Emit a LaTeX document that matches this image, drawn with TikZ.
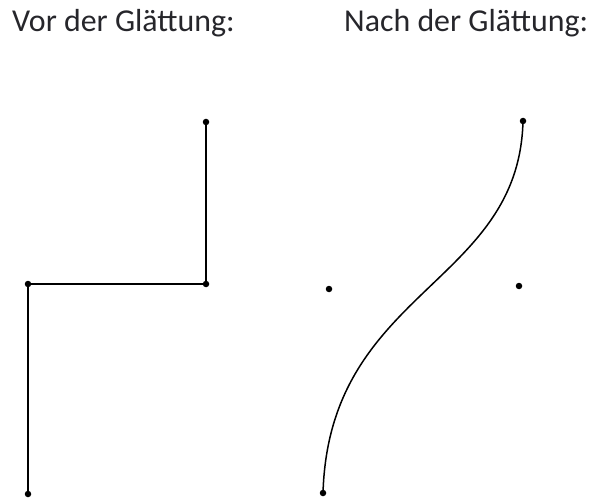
\documentclass[tikz,border=0pt]{standalone}
\usepackage{fontspec}
\setmainfont{Carlito}
\definecolor{txt}{rgb}{0.15,0.15,0.17}
\tikzset{
  lbl/.style={anchor=base west, inner sep=0pt, text=txt, font=\fontsize{32}{36}\selectfont},
  poly/.style={line width=1.8bp, black},
  dot/.style={circle, fill=black, inner sep=0pt, minimum size=6.5bp}
}
\begin{document}
\begin{tikzpicture}[x=1bp,y=-1bp]
\useasboundingbox (0,0) rectangle (589,500);
\node[lbl] (t1) at (12,32) {Vor der Glättung:};
\node[lbl] (t2) at (344,32) {Nach der Glättung:};
% left polyline
\coordinate (a1) at (206,122);
\coordinate (a2) at (206,284);
\coordinate (a3) at (28,284);
\coordinate (a4) at (28,494);
\draw[poly] (a1) -- (a2) -- (a3) -- (a4);
\foreach \p in {a1,a2,a3,a4} \node[dot] at (\p) {};
% right smoothed curve
\coordinate (b1) at (523,121);
\coordinate (b2) at (519,286);
\coordinate (b3) at (329,289);
\coordinate (b4) at (323,493);
\draw[poly, line width=1.5bp] (b1) .. controls (b2) and (b3) .. (b4);
\foreach \p in {b1,b2,b3,b4} \node[dot] at (\p) {};
\end{tikzpicture}
\end{document}
